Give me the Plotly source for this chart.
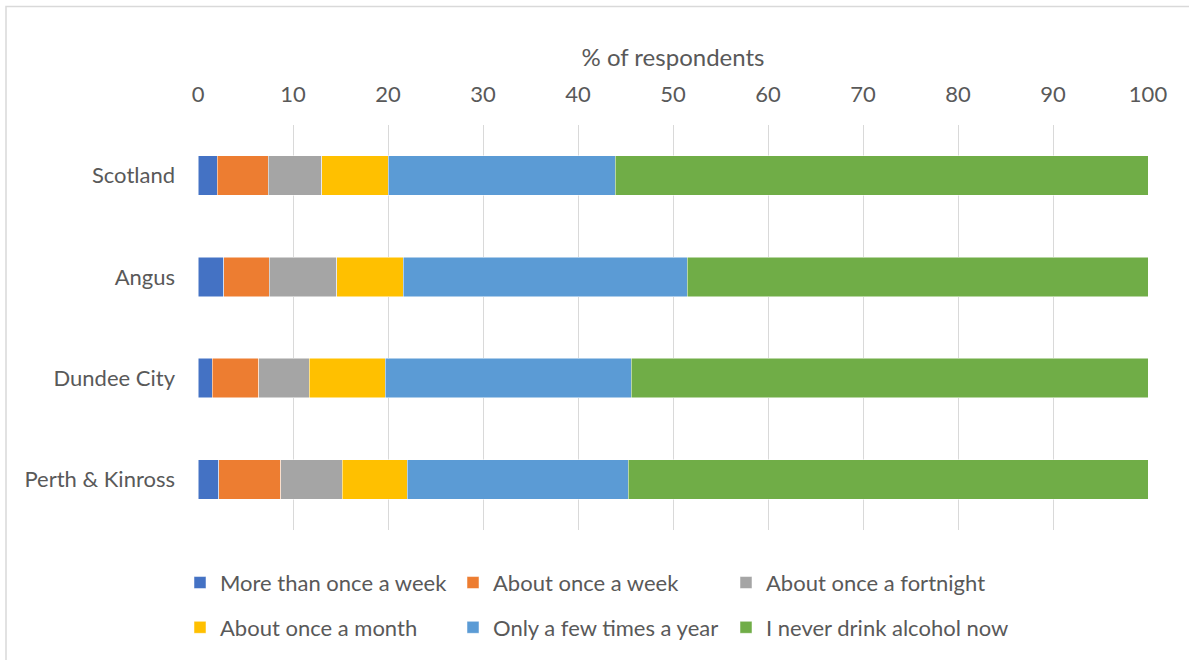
import plotly.graph_objects as go

categories = ["Scotland", "Angus", "Dundee City", "Perth & Kinross"]
series_names = ["More than once a week", "About once a week", "About once a fortnight",
                "About once a month", "Only a few times a year", "I never drink alcohol now"]
more_than_weekly = [2.0, 2.7, 1.5, 2.2]
once_week = [5.4, 4.8, 4.9, 6.5]
once_fortnight = [5.6, 7.1, 5.3, 6.5]
once_month = [7.0, 7.0, 8.0, 6.8]
few_times_year = [23.9, 29.9, 25.9, 23.3]
never = [56.1, 48.5, 54.4, 54.7]
colors = ["#4472C4", "#ED7D31", "#A5A5A5", "#FFC000", "#5B9BD5", "#70AD47"]

values = [more_than_weekly, once_week, once_fortnight, once_month, few_times_year, never]

W, H = 1189, 660
L, R, T, B = 198, 41, 125, 128
PW, PH = W - L - R, H - T - B

legend_ids = ["legend", "legend2", "legend3", "legend4", "legend5", "legend6"]
legend_px_x = [180, 453, 726, 180, 453, 726]
legend_px_y = [585, 585, 585, 630, 630, 630]

fig = go.Figure()
for name, vals, col, lid in zip(series_names, values, colors, legend_ids):
    fig.add_trace(go.Bar(
        y=categories, x=vals, name=name, orientation="h",
        marker=dict(color=col, line=dict(color="white", width=0.5)),
        legend=lid,
    ))

font = "Lato, 'Open Sans', sans-serif"
grey = "#595959"
legends = {}
for lid, px, py in zip(legend_ids, legend_px_x, legend_px_y):
    legends[lid] = dict(orientation="h", x=(px - L) / PW, xanchor="left",
                        y=-(py - (T + PH)) / PH, yanchor="middle",
                        font=dict(size=22, color=grey), itemwidth=30,
                        bgcolor="rgba(0,0,0,0)")

fig.update_layout(
    barmode="stack",
    bargap=0.61,
    width=W, height=H,
    margin=dict(l=L, r=R, t=T, b=B),
    paper_bgcolor="white", plot_bgcolor="white",
    font=dict(family=font, size=22, color=grey),
    xaxis=dict(side="top", range=[0, 100], dtick=10, showgrid=True,
               gridcolor="#d9d9d9", gridwidth=1.3, zeroline=False,
               title=dict(text="% of respondents", font=dict(size=24, color=grey), standoff=6),
               tickfont=dict(size=22, color=grey), ticks="", ticklabelstandoff=18),
    yaxis=dict(autorange="reversed", showgrid=False, ticks="", ticklabelstandoff=22,
               tickfont=dict(size=22, color=grey), showline=False),
    shapes=[dict(type="rect", xref="paper", yref="paper",
                 x0=(6 - L) / PW, x1=(W + 5 - L) / PW,
                 y0=-(H + 5 - T - PH) / PH, y1=1 + (T - 6) / PH,
                 line=dict(color="#d9d9d9", width=1.5), fillcolor="rgba(0,0,0,0)")],
    showlegend=True,
    **legends,
)

fig.write_html("out.html", config={"displayModeBar": False},
               post_script="document.body.style.margin='0';")
